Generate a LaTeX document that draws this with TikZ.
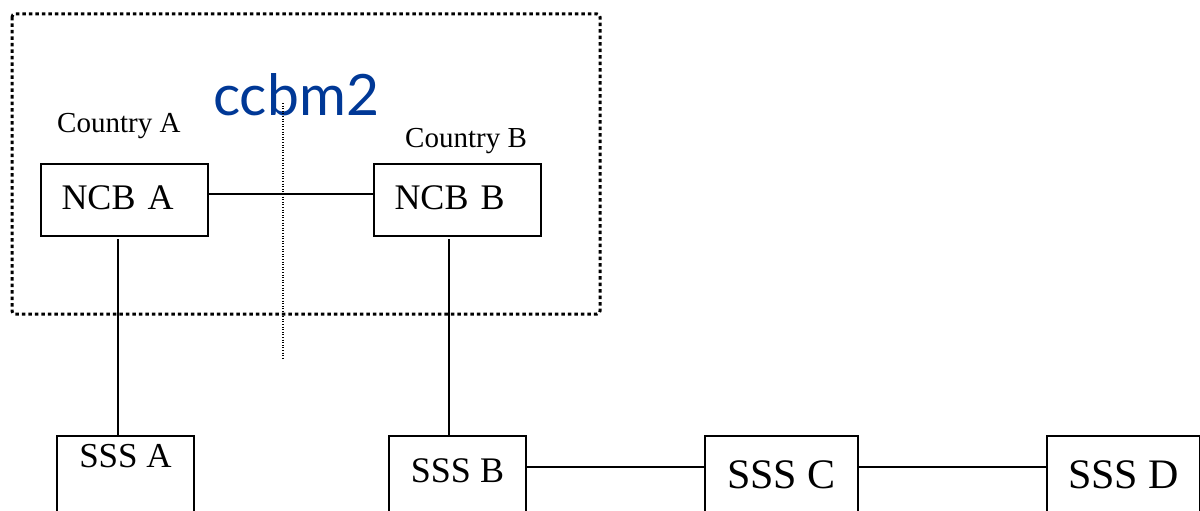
\documentclass[tikz,border=0pt]{standalone}
\usepackage{fontspec}
\setmainfont{Liberation Serif}
\newfontfamily\titlesans{Lato}
\usetikzlibrary{calc}
\definecolor{titleblue}{RGB}{0,56,150}
\begin{document}
\begin{tikzpicture}[x=1pt,y=-1pt,
  ncb/.style={draw,line width=1.8pt,rectangle,inner sep=0pt,outer sep=0pt,anchor=north,
    minimum width=167pt,text width=126pt,align=left,text height=45pt,text depth=27pt,
    font=\fontsize{36}{40}\selectfont},
  sss/.style={draw,line width=1.8pt,rectangle,inner sep=0pt,outer sep=0pt,anchor=north,
    align=center},
  country/.style={anchor=base west,inner sep=0pt,font=\fontsize{29}{32}\selectfont},
  link/.style={line width=1.6pt},
  thinlink/.style={line width=1.1pt},
  frame/.style={line width=3pt,dash pattern=on 3.5pt off 3pt,rounded corners=3pt},
  guide/.style={line width=1.1pt,dash pattern=on 1pt off 1.6pt}]
\useasboundingbox (0,0) rectangle (1200,511);
\clip (0,0) rectangle (1200,511);

% dotted boundary round the two central banks
\draw[frame] (12,14) rectangle (600,314);

% title
\node[anchor=base west,inner sep=0pt,text=titleblue,font=\titlesans\fontsize{57}{60}\selectfont]
  (title) at (213,115) {ccbm2};

% country labels
\node[country] (cA) at (57,132) {Country A};
\node[country] (cB) at (405,147) {Country B};

% national central banks
\node[ncb] (ncbA) at (124.5,164) {NCB A};
\node[ncb] (ncbB) at (457.5,164) {NCB B};

% securities settlement systems
\node[sss,minimum width=137pt,text height=31pt,text depth=89pt,font=\fontsize{35}{38}\selectfont]
  (sssA) at (125.5,436) {SSS A};
\node[sss,minimum width=137pt,text height=46pt,text depth=74pt,font=\fontsize{36}{40}\selectfont]
  (sssB) at (457.5,436) {SSS B};
\node[sss,minimum width=153pt,text height=52pt,text depth=68pt,font=\fontsize{42}{46}\selectfont]
  (sssC) at (781.5,436) {SSS C};
\node[sss,minimum width=153pt,text height=52pt,text depth=68pt,font=\fontsize{42}{46}\selectfont]
  (sssD) at (1123.5,436) {SSS D};

% connections
\draw[link] ($(ncbA.north east)+(0,30)$) -- ($(ncbB.north west)+(0,30)$);
\draw[link] ($(ncbA.south)+(-6.5,3)$) coordinate (a1) -- (a1 |- sssA.north);
\draw[link] ($(ncbB.south)+(-8.5,3)$) coordinate (b1) -- (b1 |- sssB.north);
\draw[thinlink] ($(sssB.north east)+(0,31)$) -- ($(sssC.north west)+(0,31)$);
\draw[thinlink] ($(sssC.north east)+(0,31)$) -- ($(sssD.north west)+(0,31)$);

% dotted divider between the two countries
\coordinate (gTop) at (283,103);
\coordinate (gBot) at (283,360);
\draw[guide] (gTop) -- (gBot);
\end{tikzpicture}
\end{document}
